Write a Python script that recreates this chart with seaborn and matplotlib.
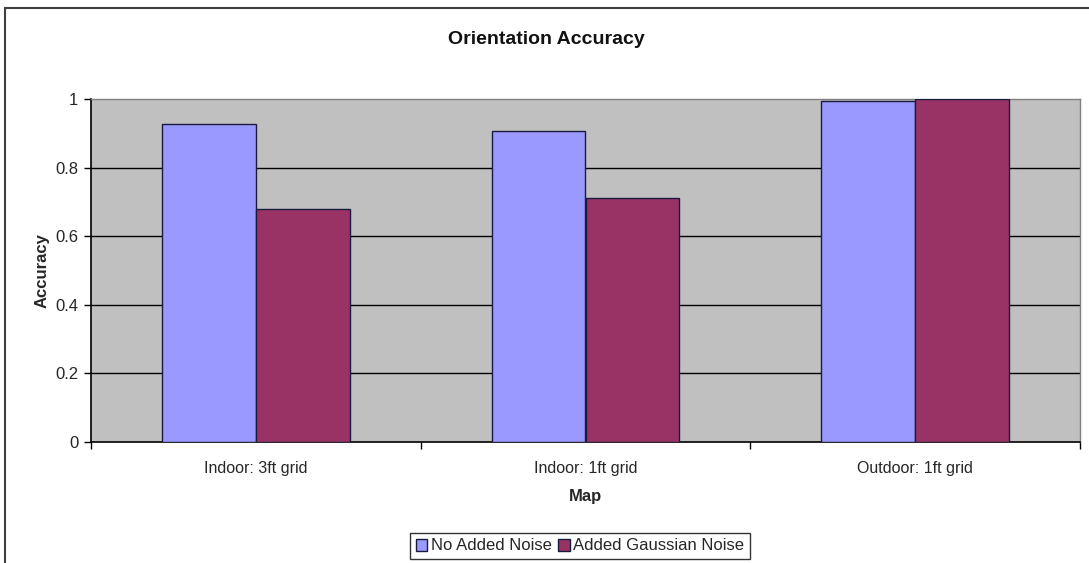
import matplotlib
matplotlib.use("Agg")
import matplotlib.pyplot as plt
from matplotlib.patches import Rectangle
import seaborn as sns
import pandas as pd

categories = ["Indoor: 3ft grid", "Indoor: 1ft grid", "Outdoor: 1ft grid"]
series_names = ["No Added Noise", "Added Gaussian Noise"]
no_noise = [0.926, 0.908, 0.994]
gaussian = [0.680, 0.710, 1.000]
y_ticks = [0, 0.2, 0.4, 0.6, 0.8, 1]
y_tick_labels = ["0", "0.2", "0.4", "0.6", "0.8", "1"]

colors = ["#9999FF", "#993366"]

df = pd.DataFrame({
    "Map": categories * 2,
    "Accuracy": no_noise + gaussian,
    "Series": [series_names[0]] * 3 + [series_names[1]] * 3,
})

sns.set_theme(style="white")
plt.rcParams["font.family"] = ["Liberation Sans", "DejaVu Sans"]

fig = plt.figure(figsize=(10.89, 5.63), dpi=100)
ax = fig.add_axes([91 / 1089, 1 - 442 / 563, 989 / 1089, 343 / 563])
ax.set_facecolor("#C0C0C0")

sns.barplot(data=df, x="Map", y="Accuracy", hue="Series", hue_order=series_names,
            palette=colors, width=0.57, edgecolor="#1a1a40", linewidth=1.0,
            saturation=1, ax=ax, legend=True, zorder=3)

ax.set_xlim(-0.5, 2.5)
ax.set_ylim(0, 1)
ax.set_yticks(y_ticks)
ax.set_yticklabels(y_tick_labels)
for y in y_ticks[1:-1]:
    ax.axhline(y, color="black", linewidth=1.0, zorder=1)

ax.tick_params(axis="y", which="major", direction="out", length=5, width=1,
               color="black", left=True, labelsize=12, pad=4)
ax.tick_params(axis="x", which="major", length=0, labelsize=11.5, pad=14)
ax.set_xticks([-0.5, 0.5, 1.5, 2.5], minor=True)
ax.tick_params(axis="x", which="minor", direction="out", length=5, width=1,
               color="black", bottom=True)

for s in ["left", "bottom"]:
    ax.spines[s].set_color("black")
    ax.spines[s].set_linewidth(1.2)
for s in ["top", "right"]:
    ax.spines[s].set_color("#808080")
    ax.spines[s].set_linewidth(1.0)

ax.set_xlabel("Map", fontsize=12, fontweight="bold", labelpad=9)
ax.set_ylabel("Accuracy", fontsize=12, fontweight="bold", labelpad=4)
fig.text(546 / 1089, 1 - 40 / 563, "Orientation Accuracy", fontsize=14,
         fontweight="bold", ha="center", va="center", color="#111111")

leg = ax.legend(loc="center", bbox_to_anchor=(580 / 1089, 1 - 546 / 563),
                bbox_transform=fig.transFigure, ncol=2, frameon=True,
                fancybox=False, edgecolor="black", fontsize=12,
                handlelength=0.7, handleheight=0.7, handletextpad=0.2,
                columnspacing=0.4, borderpad=0.35, title=None)
leg.get_frame().set_linewidth(1.0)

fig.patches.append(Rectangle((5 / 1089, -0.05), 1.2, 1 - 8 / 563 + 0.05,
                             transform=fig.transFigure, fill=False,
                             edgecolor="#404040", linewidth=1.5))

fig.savefig("out.png", dpi=100, facecolor="white")
